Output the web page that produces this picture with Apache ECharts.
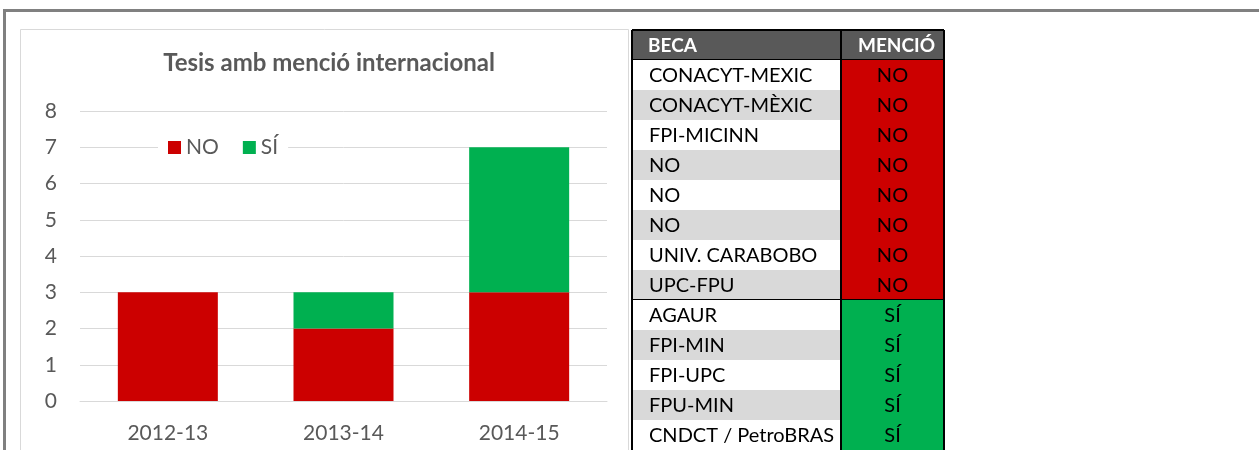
<!DOCTYPE html>
<html>
<head>
<meta charset="utf-8">
<title>Tesis amb menció internacional</title>
<script src="https://cdn.jsdelivr.net/npm/echarts@6/dist/echarts.min.js"></script>
<style>
html, body { margin: 0; padding: 0; background: #fff; }
#main { width: 1259px; height: 450px; }
</style>
</head>
<body>
<div id="main"></div>
<script>
// dades del grafic
var cursos = ['2012-13', '2013-14', '2014-15'];
var tesisNo = [3, 2, 3];
var tesisSi = [0, 1, 4];
var series_noms = ['NO', 'SÍ'];

// dades de la taula
var capcalera = ['BECA', 'MENCIÓ'];
var beques = ['CONACYT-MEXIC', 'CONACYT-MÈXIC', 'FPI-MICINN', 'NO', 'NO', 'NO',
    'UNIV. CARABOBO', 'UPC-FPU', 'AGAUR', 'FPI-MIN', 'FPI-UPC', 'FPU-MIN', 'CNDCT / PetroBRAS'];
var mencions = ['NO', 'NO', 'NO', 'NO', 'NO', 'NO', 'NO', 'NO', 'SÍ', 'SÍ', 'SÍ', 'SÍ', 'SÍ'];

var VERMELL = '#cc0000', VERD = '#00b050', GRIS = '#595959';
var FONT = 'Lato';

var files = [capcalera];
for (var i = 0; i < beques.length; i++) files.push([beques[i], mencions[i]]);
var filaIdx = files.map(function (f, i) { return i; });

var AMPLE = 312, COL = 209;   // amplada taula i posicio divisor

function pintaFila(params, api) {
    var row = api.value(1);
    var c = api.coord([0, row]);
    var h = api.size([0, 1])[1];
    var xL = c[0], xM = api.coord([COL, row])[0], xR = api.coord([AMPLE, row])[0];
    var top = c[1] - h / 2, bot = c[1] + h / 2;
    var ty = c[1] + 1;
    var d = files[row];
    var kids = [];
    var negre = { stroke: '#000', lineWidth: 2 };
    if (row === 0) {
        kids.push({ type: 'rect', shape: { x: xL, y: top, width: xR - xL, height: h }, style: { fill: GRIS } });
        kids.push({ type: 'text', style: { text: d[0], x: xL + 16, y: ty, verticalAlign: 'middle', fill: '#fff', font: 'bold 19px ' + FONT } });
        kids.push({ type: 'text', style: { text: d[1], x: (xM + xR) / 2 + 4, y: ty, align: 'center', verticalAlign: 'middle', fill: '#fff', font: 'bold 19px ' + FONT } });
        kids.push({ type: 'line', shape: { x1: xL, y1: top, x2: xR, y2: top }, style: negre });
        kids.push({ type: 'line', shape: { x1: xL, y1: bot, x2: xR, y2: bot }, style: negre });
    } else {
        kids.push({ type: 'rect', shape: { x: xL, y: top, width: xM - xL, height: h }, style: { fill: row % 2 === 0 ? '#d9d9d9' : '#fff' } });
        kids.push({ type: 'rect', shape: { x: xM, y: top, width: xR - xM, height: h }, style: { fill: d[1] === 'NO' ? VERMELL : VERD } });
        kids.push({ type: 'text', style: { text: d[0], x: xL + 17, y: ty, verticalAlign: 'middle', fill: '#000', font: '20px ' + FONT } });
        kids.push({ type: 'text', style: { text: d[1], x: (xM + xR) / 2, y: ty, align: 'center', verticalAlign: 'middle', fill: '#000', font: '20px ' + FONT } });
        if (files[row + 1] && files[row + 1][1] !== d[1]) {
            kids.push({ type: 'line', shape: { x1: xL, y1: bot, x2: xR, y2: bot }, style: negre });
        }
    }
    kids.push({ type: 'line', shape: { x1: xL, y1: top, x2: xL, y2: bot }, style: negre });
    kids.push({ type: 'line', shape: { x1: xM, y1: top, x2: xM, y2: bot }, style: negre });
    kids.push({ type: 'line', shape: { x1: xR, y1: top, x2: xR, y2: bot }, style: negre });
    return { type: 'group', children: kids };
}

var chart = echarts.init(document.getElementById('main'));
var option = {
    animation: false,
    backgroundColor: '#fff',
    textStyle: { fontFamily: FONT },
    title: {
        text: 'Tesis amb menció internacional',
        left: 324,
        textAlign: 'center',
        top: 46,
        textStyle: { fontFamily: FONT, fontSize: 24, fontWeight: 'bold', color: GRIS }
    },
    legend: {
        data: series_noms,
        left: 158,
        top: 135,
        icon: 'rect',
        itemWidth: 13,
        itemHeight: 13,
        itemGap: 24,
        padding: [2, 10],
        backgroundColor: '#fff',
        textStyle: { fontFamily: FONT, fontSize: 21, color: GRIS }
    },
    graphic: [
        { type: 'rect', shape: { x: 3, y: 9, width: 1256, height: 3 }, style: { fill: '#808080' }, z: 100 },
        { type: 'rect', shape: { x: 3, y: 9, width: 3, height: 441 }, style: { fill: '#808080' }, z: 100 },
        { type: 'rect', shape: { x: 20.5, y: 29.5, width: 608, height: 440 }, style: { fill: 'none', stroke: '#d9d9d9', lineWidth: 1 }, z: -1 }
    ],
    grid: [
        { left: 80, top: 111, width: 527, height: 290 },
        { left: 632, top: 30, width: AMPLE, height: 30.4 * files.length }
    ],
    xAxis: [
        {
            type: 'category',
            gridIndex: 0,
            data: cursos,
            axisLine: { lineStyle: { color: '#d9d9d9' } },
            axisTick: { show: false },
            axisLabel: { fontFamily: FONT, fontSize: 21, color: GRIS, margin: 22 }
        },
        { type: 'value', gridIndex: 1, min: 0, max: AMPLE, show: false }
    ],
    yAxis: [
        {
            type: 'value',
            gridIndex: 0,
            min: 0,
            max: 8,
            interval: 1,
            axisLine: { show: false },
            axisTick: { show: false },
            splitLine: { lineStyle: { color: '#d9d9d9' } },
            axisLabel: { fontFamily: FONT, fontSize: 21, color: GRIS, margin: 23 }
        },
        { type: 'category', gridIndex: 1, data: filaIdx, inverse: true, show: false }
    ],
    series: [
        { name: 'NO', type: 'bar', stack: 'tesis', data: tesisNo, barWidth: 100, itemStyle: { color: VERMELL } },
        { name: 'SÍ', type: 'bar', stack: 'tesis', data: tesisSi, barWidth: 100, itemStyle: { color: VERD } },
        {
            type: 'custom',
            xAxisIndex: 1,
            yAxisIndex: 1,
            data: filaIdx.map(function (i) { return [0, i]; }),
            encode: { x: 0, y: 1 },
            renderItem: pintaFila,
            clip: false,
            silent: true
        }
    ]
};
chart.setOption(option);
</script>
</body>
</html>
